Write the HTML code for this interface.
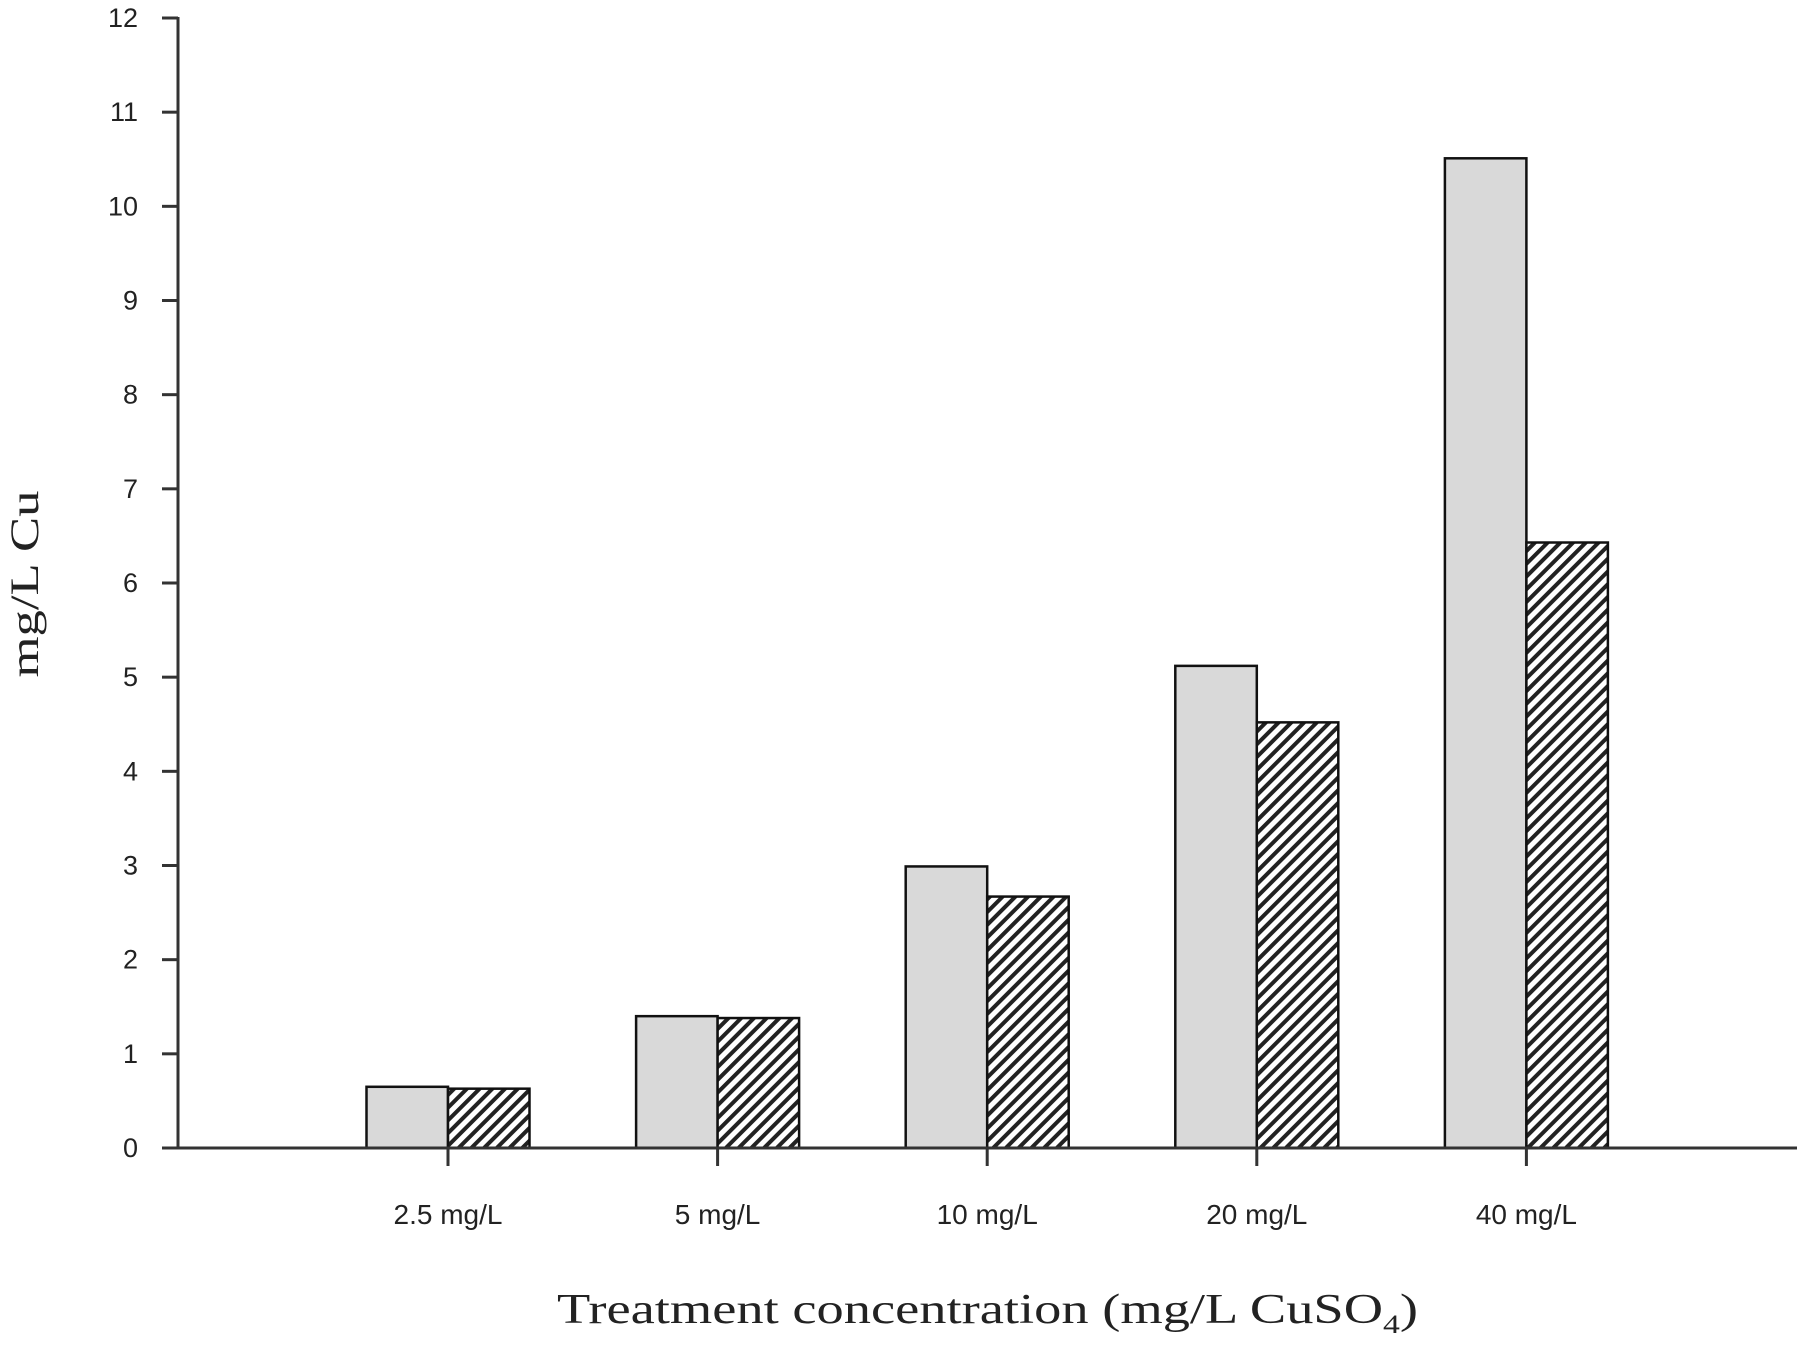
<!DOCTYPE html>
<html><head><meta charset="utf-8"><style>
html,body{margin:0;padding:0;background:#fff;}
svg{display:block;}
</style></head><body>
<svg id="chart" width="1800" height="1345" viewBox="0 0 1800 1345" xmlns="http://www.w3.org/2000/svg">
<defs>
<pattern id="hatch" patternUnits="userSpaceOnUse" width="9" height="9" patternTransform="rotate(45)">
<rect width="9" height="9" fill="#fff"/>
<rect x="0" y="0" width="4" height="9" fill="#222"/>
</pattern>
</defs>
<g id="plot"></g>
<text transform="translate(38,584) rotate(-90)" text-anchor="middle" font-family="Liberation Serif, serif" font-size="40" textLength="187" lengthAdjust="spacingAndGlyphs" fill="#222">mg/L Cu</text>
<text x="557" y="1323" font-family="Liberation Serif, serif" font-size="42" textLength="861" lengthAdjust="spacingAndGlyphs" fill="#222">Treatment concentration (mg/L CuSO<tspan font-size="26" dy="10">4</tspan><tspan dy="-10">)</tspan></text>
</svg>
<script>
const categories = ["2.5 mg/L", "5 mg/L", "10 mg/L", "20 mg/L", "40 mg/L"];
const seriesA = [0.65, 1.40, 2.99, 5.12, 10.51];
const seriesB = [0.63, 1.38, 2.67, 4.52, 6.43];
const yTicks = [0,1,2,3,4,5,6,7,8,9,10,11,12];

const NS = "http://www.w3.org/2000/svg";
const g = document.getElementById("plot");
const x0 = 178, xEnd = 1797, y0 = 1148, yTop = 18, yMax = 12;
const firstCenter = 448, step = 269.6, barW = 81.5;
function yScale(v){ return y0 - (v / yMax) * (y0 - yTop); }
function xCenter(i){ return firstCenter + i * step; }
function mk(tag, attrs){ const e = document.createElementNS(NS, tag); for (const k in attrs) e.setAttribute(k, attrs[k]); g.appendChild(e); return e; }

// bars
categories.forEach((c, i) => {
  const cx = xCenter(i);
  const a = mk("rect", {x: cx - barW, y: yScale(seriesA[i]), width: barW, height: y0 - yScale(seriesA[i]), fill: "#d9d9d9", stroke: "#111", "stroke-width": 2.5});
  
  
  const b = mk("rect", {x: cx, y: yScale(seriesB[i]), width: barW, height: y0 - yScale(seriesB[i]), fill: "url(#hatch)", stroke: "#111", "stroke-width": 2.5});
  
  
});

// axes
const ya = mk("line", {x1: x0, y1: yTop - 1, x2: x0, y2: y0, stroke: "#333", "stroke-width": 3});


const xa = mk("line", {x1: x0, y1: y0, x2: xEnd, y2: y0, stroke: "#333", "stroke-width": 3});



yTicks.forEach(t => {
  const y = yScale(t);
  const tk = mk("line", {x1: x0 - 16, y1: y, x2: x0, y2: y, stroke: "#333", "stroke-width": 3});
  
  
  const lb = mk("text", {x: 138, y: y + 9, "text-anchor": "end", "font-family": "Liberation Sans, sans-serif", "font-size": 27, fill: "#222"});
  lb.textContent = String(t);
  
  
});

categories.forEach((c, i) => {
  const cx = xCenter(i);
  const tk = mk("line", {x1: cx, y1: y0, x2: cx, y2: y0 + 18, stroke: "#333", "stroke-width": 3});
  
  
  const lb = mk("text", {x: cx, y: 1224, "text-anchor": "middle", "font-family": "Liberation Sans, sans-serif", "font-size": 28, fill: "#222"});
  lb.textContent = c;
  
  
});
</script>
</body></html>
